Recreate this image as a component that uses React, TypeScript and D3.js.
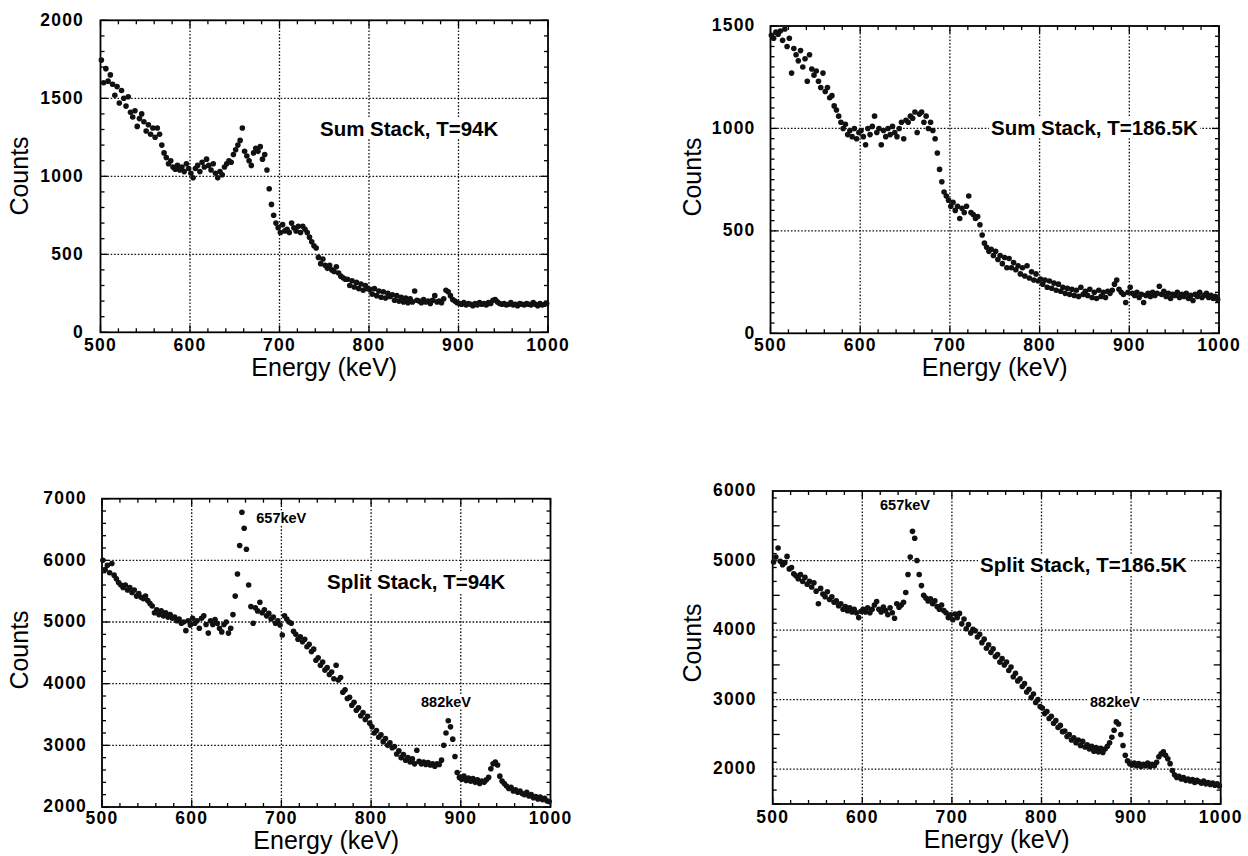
import { useEffect, useRef } from "react"
import * as d3 from "d3"

// channel centres (keV), one point every 2.5 keV
const energies = d3.range(501, 1000, 2.5)
const xTicks = [500, 600, 700, 800, 900, 1000]

// Sum stack, T=94K
const sum94 = [
  1745, 1600, 1690, 1610, 1650, 1590, 1520, 1575, 1470, 1550,
  1500, 1450, 1510, 1410, 1380, 1420, 1320, 1370, 1400, 1350,
  1290, 1330, 1270, 1310, 1250, 1310, 1270, 1200, 1150, 1120,
  1080, 1100, 1060, 1045, 1070, 1040, 1060, 1030, 1080, 1050,
  1020, 990, 1050, 1070, 1030, 1090, 1060, 1110, 1070, 1040,
  1080, 1020, 990, 1030, 1010, 1060, 1080, 1100, 1090, 1140,
  1170, 1200, 1230, 1310, 1160, 1130, 1100, 1070, 1150, 1180,
  1160, 1190, 1110, 1140, 1040, 920, 820, 750, 700, 670,
  640, 690, 650, 660, 640, 700, 670, 650, 680, 640,
  680, 660, 640, 610, 580, 555, 540, 480, 440, 470,
  430, 410, 430, 400, 390, 420, 380, 360, 350, 340,
  340, 300, 330, 290, 320, 280, 310, 270, 300, 280,
  275, 245, 280, 235, 265, 225, 260, 220, 250, 230,
  240, 205, 235, 200, 225, 195, 220, 190, 215, 195,
  265, 205, 200, 190, 210, 195, 200, 185, 205, 235,
  195, 200, 190, 215, 270, 260, 235, 210, 200, 190,
  185, 180, 190, 175, 185, 180, 170, 185, 175, 190,
  180, 185, 175, 190, 185, 205, 210, 195, 185, 180,
  185, 175, 180, 190, 175, 180, 170, 185, 180, 175,
  185, 180, 175, 190, 180, 170, 185, 175, 180, 185,
]

// Sum stack, T=186.5K
const sum186 = [
  1455, 1440, 1470, 1460, 1475, 1430, 1485, 1400, 1440, 1270,
  1390, 1360, 1330, 1380, 1300, 1340, 1230, 1360, 1290, 1260,
  1280, 1230, 1200, 1270, 1180, 1200, 1150, 1160, 1110, 1090,
  1060, 1030, 1000, 1020, 970, 990, 960, 1000, 950, 980,
  990, 960, 920, 1000, 970, 1010, 1060, 980, 1000, 920,
  990, 960, 1000, 970, 1010, 980, 960, 1000, 1030, 950,
  1040, 1030, 1060, 1050, 1080, 980, 1070, 1080, 1030, 1060,
  1000, 1030, 990, 950, 880, 800, 740, 690, 670, 650,
  620, 640, 600, 620, 560, 610, 590, 620, 670, 590,
  580, 560, 570, 530, 480, 440, 420, 400, 410, 380,
  400, 360, 380, 340, 370, 320, 365, 320, 345, 310,
  330, 290, 320, 280, 330, 270, 300, 260, 290, 255,
  265, 240, 260, 225, 255, 220, 245, 210, 240, 205,
  225, 195, 220, 190, 215, 185, 210, 180, 225, 190,
  205, 185, 215, 175, 200, 170, 210, 180, 200, 175,
  205, 195, 210, 240, 260, 215, 200, 190, 150, 200,
  225, 195, 185, 200, 175, 190, 150, 185, 195, 180,
  200, 185, 195, 230, 190, 205, 180, 195, 170, 190,
  185, 200, 175, 190, 180, 195, 170, 185, 160, 190,
  180, 200, 175, 185, 195, 175, 185, 170, 180, 165,
]

// Split stack, T=94K
const split94 = [
  6000, 5850, 5920, 5800, 5950, 5760, 5700, 5640, 5600, 5560,
  5600, 5520, 5560, 5480, 5520, 5420, 5460, 5400, 5380, 5420,
  5350, 5300, 5260, 5150, 5200, 5120, 5180, 5100, 5150, 5080,
  5120, 5060, 5080, 5020, 5050, 4980, 5000, 4860, 5020, 4950,
  5060, 4980, 5020, 4900, 5060, 5100, 4960, 4820, 5020, 4960,
  5040, 4980, 4900, 4840, 4960, 5000, 4820, 4900, 5120, 5420,
  5780, 6240, 6780, 6520, 6180, 5600, 5250, 4980, 5230, 5180,
  5320, 5150, 5200, 5100, 5140, 5050, 5080, 4980, 5020, 4950,
  4790, 5100, 5050, 5000, 4980, 4850, 4800, 4720, 4760, 4680,
  4720, 4600, 4640, 4520, 4560, 4380, 4420, 4300, 4350, 4220,
  4260, 4150, 4190, 4080, 4300, 4060, 4100, 3860, 3900, 3760,
  3780, 3650, 3700, 3570, 3610, 3480, 3530, 3420, 3470, 3360,
  3300, 3200, 3240, 3130, 3170, 3060, 3110, 3000, 3040, 2960,
  2980, 2860, 2910, 2800, 2850, 2760, 2800, 2730, 2780, 2700,
  2920, 2740, 2700, 2730, 2690, 2720, 2680, 2700, 2660, 2700,
  2690, 2760, 3000, 3200, 3400, 3300, 3100, 2820, 2560, 2480,
  2450, 2500, 2430, 2470, 2420, 2460, 2400, 2440, 2380, 2420,
  2400, 2440, 2480, 2620, 2700, 2730, 2680, 2500, 2420, 2380,
  2340, 2300, 2320, 2260, 2280, 2240, 2260, 2220, 2200, 2240,
  2180, 2200, 2150, 2170, 2130, 2160, 2120, 2140, 2100, 2090,
]

// Split stack, T=186.5K
const split186 = [
  4980, 5050, 5180, 4990, 4940, 4970, 5060, 4880, 4900, 4810,
  4780, 4740, 4800, 4700, 4760, 4660, 4700, 4620, 4680, 4560,
  4380, 4600, 4520, 4480, 4550, 4440, 4480, 4400, 4420, 4350,
  4380, 4300, 4340, 4280, 4320, 4260, 4300, 4250, 4180, 4270,
  4300, 4260, 4320, 4250, 4300, 4360, 4410, 4300, 4260, 4330,
  4280, 4220, 4320, 4250, 4170, 4380, 4330, 4360, 4400, 4540,
  4800, 5050, 5420, 5320, 5000, 4800, 4640, 4500, 4460, 4420,
  4450, 4380, 4420, 4340, 4300, 4360, 4280, 4250, 4180, 4220,
  4150, 4230, 4180, 4240, 4090, 4160, 4020, 4080, 3960, 4010,
  3990, 3900, 3940, 3820, 3870, 3740, 3790, 3680, 3730, 3620,
  3650, 3540, 3590, 3500, 3540, 3420, 3470, 3330, 3380, 3270,
  3300, 3190, 3230, 3110, 3150, 3030, 3080, 2960, 3000, 2900,
  2880, 2800, 2830, 2730, 2760, 2660, 2700, 2600, 2630, 2540,
  2550, 2470, 2500, 2420, 2450, 2380, 2420, 2340, 2400, 2320,
  2350, 2290, 2330, 2260, 2310, 2250, 2300, 2240, 2290, 2330,
  2380, 2460, 2560, 2680, 2650, 2500, 2340, 2200, 2120, 2080,
  2060, 2090, 2050, 2080, 2040, 2070, 2050, 2090, 2040, 2070,
  2050, 2100, 2180, 2220, 2250, 2200, 2150, 2080, 1980, 1920,
  1880, 1900, 1860, 1880, 1840, 1860, 1830, 1850, 1810, 1840,
  1820, 1800, 1830, 1790, 1810, 1780, 1800, 1770, 1790, 1760,
]

const panels = [
  {
    values: sum94, yDomain: [0, 2000], yTicks: [0, 500, 1000, 1500, 2000], yMinor: 100,
    title: "Sum Stack, T=94K", peaks: [] as { text: string; x: number; y: number }[],
    box: { left: 100.5, right: 548, top: 20.3, bottom: 332.3 }, labelGap: 16.5,
    xLabelY: 351, energyY: 376, countsX: 28, countsY: 176, titleX: 320, titleY: 135.7,
  },
  {
    values: sum186, yDomain: [0, 1500], yTicks: [0, 500, 1000, 1500], yMinor: 50,
    title: "Sum Stack, T=186.5K", peaks: [],
    box: { left: 770.5, right: 1219, top: 26, bottom: 333.3 }, labelGap: 15,
    xLabelY: 351, energyY: 376, countsX: 701, countsY: 177, titleX: 991, titleY: 135,
  },
  {
    values: split94, yDomain: [2000, 7000], yTicks: [2000, 3000, 4000, 5000, 6000, 7000], yMinor: 200,
    title: "Split Stack, T=94K",
    peaks: [{ text: "657keV", x: 256.3, y: 522.7 }, { text: "882keV", x: 421, y: 707 }],
    box: { left: 102, right: 550.5, top: 498.7, bottom: 807 }, labelGap: 15,
    xLabelY: 824, energyY: 849, countsX: 28, countsY: 650, titleX: 327, titleY: 589.3,
  },
  {
    values: split186, yDomain: [1500, 6000], yTicks: [2000, 3000, 4000, 5000, 6000], yMinor: 200,
    title: "Split Stack, T=186.5K",
    peaks: [{ text: "657keV", x: 880, y: 510 }, { text: "882keV", x: 1090, y: 706.7 }],
    box: { left: 772.7, right: 1220.7, top: 491, bottom: 804 }, labelGap: 16,
    xLabelY: 823, energyY: 848, countsX: 701, countsY: 643, titleX: 980, titleY: 572,
  },
]

const FONT = "'Liberation Sans', Arial, Helvetica, sans-serif"

export default function App() {
  const svgRef = useRef<SVGSVGElement>(null)

  useEffect(() => {
    if (!svgRef.current) return
    const svg = d3.select(svgRef.current)
    svg.selectAll("*").remove()

    panels.forEach((p) => {
      const { left, right, top, bottom } = p.box
      const x = d3.scaleLinear().domain([500, 1000]).range([left, right])
      const y = d3.scaleLinear().domain(p.yDomain).range([bottom, top])
      const g = svg.append("g")

      // dotted grid at the major ticks
      g.selectAll(".gx")
        .data(xTicks.slice(1, -1))
        .join("line")
        .attr("x1", (d) => x(d))
        .attr("x2", (d) => x(d))
        .attr("y1", top)
        .attr("y2", bottom)
        .attr("stroke", "#111")
        .attr("stroke-width", 1.3)
        .attr("stroke-dasharray", "1.6,1.8")

      g.selectAll(".gy")
        .data(p.yTicks.filter((t) => y(t) < bottom - 1 && y(t) > top + 1))
        .join("line")
        .attr("x1", left)
        .attr("x2", right)
        .attr("y1", (d) => y(d))
        .attr("y2", (d) => y(d))
        .attr("stroke", "#111")
        .attr("stroke-width", 1.3)
        .attr("stroke-dasharray", "1.6,1.8")

      // inward ticks on all four sides
      const xMinor = d3.range(500, 1001, 20)
      xMinor.forEach((t) => {
        const len = xTicks.includes(t) ? 7 : 4
        g.append("line").attr("x1", x(t)).attr("x2", x(t)).attr("y1", bottom).attr("y2", bottom - len)
          .attr("stroke", "#000").attr("stroke-width", 1.3)
        g.append("line").attr("x1", x(t)).attr("x2", x(t)).attr("y1", top).attr("y2", top + len)
          .attr("stroke", "#000").attr("stroke-width", 1.3)
      })
      const yMinor = d3.range(p.yDomain[0], p.yDomain[1] + 1, p.yMinor)
      yMinor.forEach((t) => {
        const len = t % 500 === 0 ? 7 : 4
        g.append("line").attr("x1", left).attr("x2", left + len).attr("y1", y(t)).attr("y2", y(t))
          .attr("stroke", "#000").attr("stroke-width", 1.3)
        g.append("line").attr("x1", right).attr("x2", right - len).attr("y1", y(t)).attr("y2", y(t))
          .attr("stroke", "#000").attr("stroke-width", 1.3)
      })

      // frame
      g.append("rect")
        .attr("x", left)
        .attr("y", top)
        .attr("width", right - left)
        .attr("height", bottom - top)
        .attr("fill", "none")
        .attr("stroke", "#000")
        .attr("stroke-width", 1.8)

      // data points
      g.selectAll(".pt")
        .data(p.values)
        .join("circle")
        .attr("cx", (d, i) => x(energies[i]))
        .attr("cy", (d) => y(d))
        .attr("r", 2.8)
        .attr("fill", "#111")

      // tick labels
      g.selectAll(".xl")
        .data(xTicks)
        .join("text")
        .attr("x", (d) => x(d))
        .attr("y", p.xLabelY)
        .attr("text-anchor", "middle")
        .attr("font-family", FONT)
        .attr("font-weight", "bold")
        .attr("font-size", 17.5)
        .attr("letter-spacing", 1.2)
        .text((d) => d)

      g.selectAll(".yl")
        .data(p.yTicks)
        .join("text")
        .attr("x", left - p.labelGap)
        .attr("y", (d) => y(d))
        .attr("dy", "0.3em")
        .attr("text-anchor", "end")
        .attr("font-family", FONT)
        .attr("font-weight", "bold")
        .attr("font-size", 17.5)
        .attr("letter-spacing", 1.2)
        .text((d) => d)

      // axis titles
      g.append("text")
        .attr("x", (left + right) / 2)
        .attr("y", p.energyY)
        .attr("text-anchor", "middle")
        .attr("font-family", FONT)
        .attr("font-size", 25)
        .text("Energy (keV)")

      g.append("text")
        .attr("transform", `translate(${p.countsX}, ${p.countsY}) rotate(-90)`)
        .attr("text-anchor", "middle")
        .attr("font-family", FONT)
        .attr("font-size", 25)
        .text("Counts")

      // annotations with white backing
      const label = (text: string, lx: number, ly: number, size: number) => {
        const lg = g.append("g")
        const rect = lg.append("rect").attr("fill", "#fff")
        const t = lg.append("text")
          .attr("x", lx)
          .attr("y", ly)
          .attr("font-family", FONT)
          .attr("font-weight", "bold")
          .attr("font-size", size)
          .text(text)
        const bb = (t.node() as SVGTextElement).getBBox()
        rect.attr("x", bb.x - 2).attr("y", bb.y + 1).attr("width", bb.width + 4).attr("height", bb.height - 2)
      }
      label(p.title, p.titleX, p.titleY, 20.5)
      p.peaks.forEach((pk) => label(pk.text, pk.x, pk.y, 14.5))
    })
  }, [])

  return (
    <div style={{ position: "absolute", left: 0, top: 0 }}>
      <svg ref={svgRef} width={1248} height={856} style={{ display: "block", background: "#fff" }} />
    </div>
  )
}
